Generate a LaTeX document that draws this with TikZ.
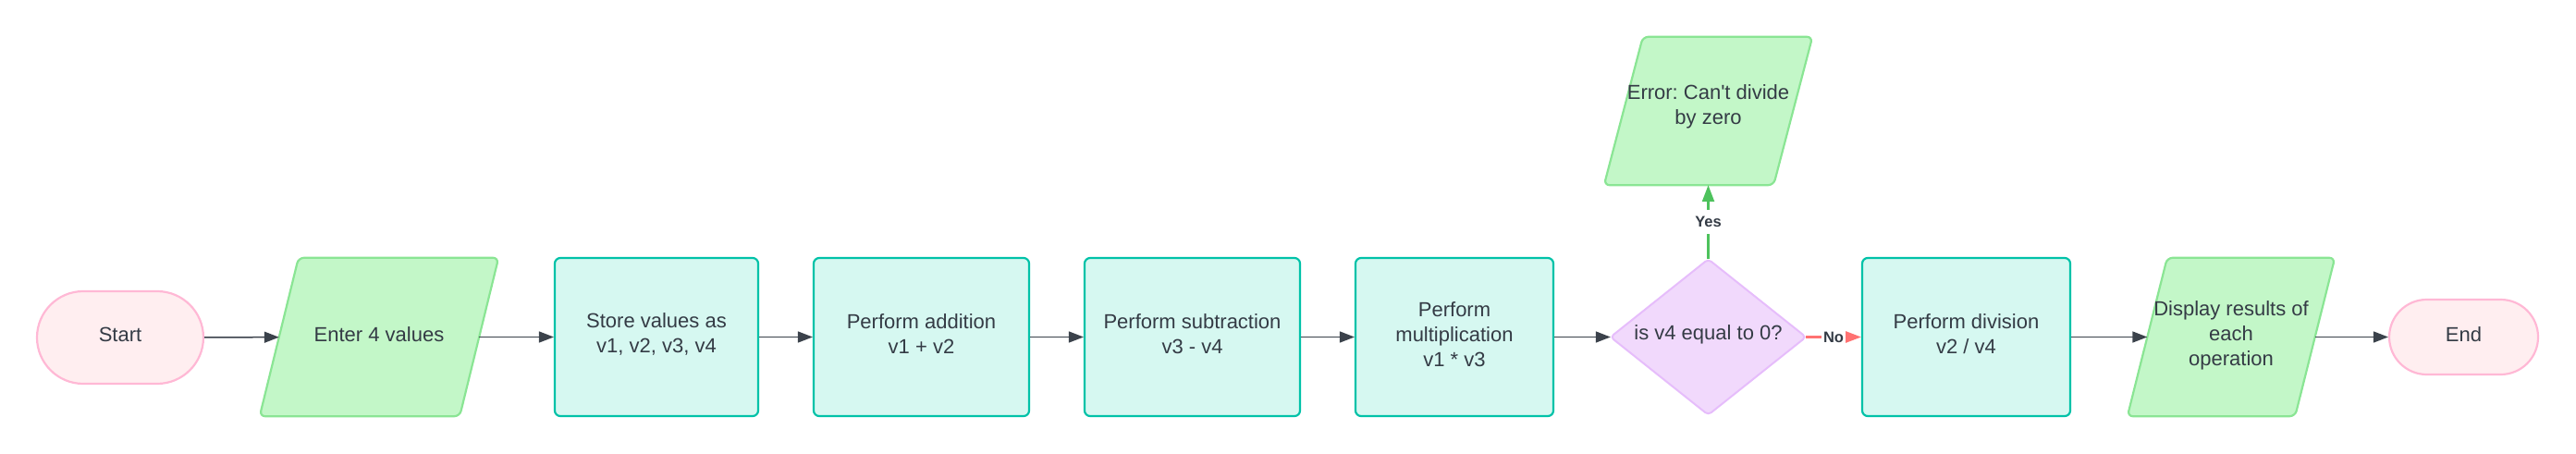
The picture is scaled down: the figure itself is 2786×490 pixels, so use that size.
\documentclass[tikz,border=0pt]{standalone}
\usepackage{fontspec}
\newfontfamily\lsans{Liberation Sans}
\usetikzlibrary{arrows.meta,backgrounds}
\definecolor{termf}{HTML}{FFEEF0}
\definecolor{termd}{HTML}{FFB8D5}
\definecolor{procf}{HTML}{D6F8F1}
\definecolor{procd}{HTML}{00C2A8}
\definecolor{paraf}{HTML}{C3F7C8}
\definecolor{parad}{HTML}{8AE594}
\definecolor{diaf}{HTML}{F1D9FC}
\definecolor{diad}{HTML}{E6BDFB}
\definecolor{arrc}{HTML}{3B424B}
\definecolor{txtc}{HTML}{343B45}
\definecolor{yesc}{HTML}{4DC25C}
\definecolor{noc}{HTML}{FF7272}
\tikzset{
  txt/.style={font=\lsans\frenchspacing\fontsize{22}{27}\selectfont, text=txtc, align=center, inner sep=0pt},
  procbox/.style={draw=procd, fill=procf, line width=2.2pt, rounded corners=6pt, minimum width=#1, minimum height=171pt, inner sep=0pt},
  frame/.style={minimum width=#1, minimum height=171pt, inner sep=0pt},
  termbox/.style={draw=termd, fill=termf, line width=2.2pt, inner sep=0pt},
  parashape/.style={draw=parad, fill=paraf, line width=2.2pt, rounded corners=6pt},
  diashape/.style={draw=diad, fill=diaf, line width=2pt, rounded corners=4pt},
  arr/.style={draw=arrc, line width=1.5pt, -{Triangle[length=16pt,width=12pt]}},
  yesarr/.style={draw=yesc, line width=2.4pt, -{Triangle[length=18pt,width=13pt]}},
  noarr/.style={draw=noc, line width=2.4pt, -{Triangle[length=18pt,width=13pt]}},
  lab/.style={font=\lsans\bfseries\fontsize{16.5}{18}\selectfont, text=txtc, fill=white}
}
\begin{document}
\begin{tikzpicture}[x=1pt,y=-1pt]
\useasboundingbox (0,0) rectangle (2786,490);

% shape nodes
\node[termbox, minimum width=180pt, minimum height=100pt, rounded corners=50pt] (st) at (130,365) {};
\node[frame=216pt] (en) at (410,364.5) {};
\node[procbox=220pt] (sv) at (710,364.5) {};
\node[procbox=233pt] (ad) at (996.5,364.5) {};
\node[procbox=233pt] (sb) at (1289.5,364.5) {};
\node[procbox=214pt] (mu) at (1573,364.5) {};
\node[minimum width=211pt, minimum height=168pt, inner sep=0pt] (dc) at (1847.5,364.5) {};
\node[minimum width=183pt, minimum height=160pt, inner sep=0pt] (er) at (1847.5,120) {};
\node[procbox=225pt] (dv) at (2126.5,364.5) {};
\node[frame=181pt] (ds) at (2413,364.5) {};
\node[termbox, minimum width=161pt, minimum height=81pt, rounded corners=40.5pt] (ed) at (2664.5,364.5) {};

% outlines behind
\begin{scope}[on background layer]
  \draw[parashape] ([xshift=21pt]en.north west) -- ([xshift=21pt]en.north east) -- ([xshift=-21pt]en.south east) -- ([xshift=-21pt]en.south west) -- cycle;
  \draw[parashape] ([xshift=21pt]er.north west) -- ([xshift=21pt]er.north east) -- ([xshift=-21pt]er.south east) -- ([xshift=-21pt]er.south west) -- cycle;
  \draw[parashape] ([xshift=21.5pt]ds.north west) -- ([xshift=21.5pt]ds.north east) -- ([xshift=-21.5pt]ds.south east) -- ([xshift=-21.5pt]ds.south west) -- cycle;
  \draw[diashape] (dc.north) -- (dc.east) -- (dc.south) -- (dc.west) -- cycle;
\end{scope}

% texts
\node[txt] (st-t) at ([yshift=3pt]st.center) {Start};
\node[txt] (en-t) at ([yshift=3pt]en.center) {Enter 4 values};
\node[txt] (sv-t) at ([yshift=3pt]sv.center) {Store values as\\v1, v2, v3, v4};
\node[txt] (ad-t) at ([yshift=3pt]ad.center) {Perform addition\\v1 + v2};
\node[txt] (sb-t) at ([yshift=3pt]sb.center) {Perform subtraction\\v3 - v4};
\node[txt] (mu-t) at ([yshift=3pt]mu.center) {Perform\\multiplication\\v1 * v3};
\node[txt] (dc-t) at ([yshift=3pt]dc.center) {is v4 equal to 0?};
\node[txt] (er-t) at ([yshift=5pt]er.center) {Error: Can't divide\\by zero};
\node[txt] (dv-t) at ([yshift=3pt]dv.center) {Perform division\\v2 / v4};
\node[txt] (ds-t) at ([yshift=2pt]ds.center) {Display results of\\each\\operation};
\node[txt] (ed-t) at ([yshift=3pt]ed.center) {End};

% connectors
\draw[arr] (st) -- (en);
\draw[arr] (en) -- (sv);
\draw[arr] (sv) -- (ad);
\draw[arr] (ad) -- (sb);
\draw[arr] (sb) -- (mu);
\draw[arr] (mu) -- (dc.west);
\draw[yesarr] (dc.north) -- (er.south) node[midway, lab, inner xsep=3pt, inner ysep=7pt] (yl) {Yes};
\draw[noarr] (dc.east) -- (dv.west) node[midway, lab, inner xsep=2pt, inner ysep=3pt] (nl) {No};
\draw[arr] (dv) -- (ds);
\draw[arr] (ds) -- (ed);
\end{tikzpicture}
\end{document}
